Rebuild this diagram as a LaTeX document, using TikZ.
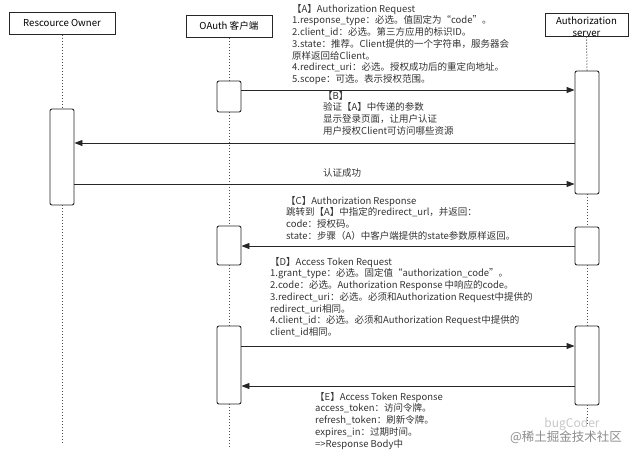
\documentclass[tikz,border=0pt]{standalone}
\usepackage{fontspec}
\setmainfont{Noto Sans CJK SC}
\usetikzlibrary{arrows.meta}
\tikzset{
  part/.style={draw=black!85, line width=1pt, inner sep=0pt, font=\fontsize{9.6}{11}\selectfont},
  act/.style={draw=black!85, line width=0.9pt, rounded corners=2pt, fill=white, inner sep=0pt, minimum width=24pt},
  life/.style={black!70, line width=1pt, dotted},
  msg/.style={black!85, line width=0.9pt, -{Triangle[length=8pt,width=6pt]}},
  note/.style={anchor=north west, align=left, inner sep=0pt, text=black!80, font=\fontsize{9.5}{11.7}\selectfont},
}
\begin{document}
\begin{tikzpicture}[x=1pt, y=-1pt]
  \useasboundingbox (0,0) rectangle (640,456);

  % Teilnehmer
  \node[part, minimum width=106pt, minimum height=22pt] (ro) at (62,23) {Rescource Owner};
  \node[part, minimum width=86pt, minimum height=22pt] (cl) at (229,26) {OAuth 客户端};
  \node[part, minimum width=83pt, minimum height=23pt] (as) at (586.5,24.5) {};
  \node[inner sep=0pt, align=center, font=\fontsize{9.6}{12}\selectfont] (astext) at (586.5,27) {Authorization\\server};

  % Aktivierungen
  \node[act, minimum height=96pt]  (ra)  at (62,157) {};
  \node[act, minimum height=31pt]  (c1)  at (229,96.5) {};
  \node[act, minimum height=39pt]  (c2)  at (229,245.5) {};
  \node[act, minimum height=78pt]  (c3)  at (229,365) {};
  \node[act, minimum height=123pt] (s1)  at (587,132.5) {};
  \node[act, minimum height=38pt]  (s2)  at (587,246) {};
  \node[act, minimum height=79pt]  (s3)  at (587,365.5) {};
  \coordinate (roend) at (62,445);
  \coordinate (clend) at (229,447);
  \coordinate (asend) at (587,425);

  % Lebenslinien
  \draw[life] (ro.south) -- (ra.north);
  \draw[life] (ra.south) -- (roend);
  \draw[life] (cl.south) -- (c1.north);
  \draw[life] (c1.south) -- (c2.north);
  \draw[life] (c2.south) -- (c3.north);
  \draw[life] (c3.south) -- (clend);
  \draw[life] (as.south) -- (s1.north);
  \draw[life] (s1.south) -- (s2.north);
  \draw[life] (s2.south) -- (s3.north);
  \draw[life] (s3.south) -- (asend);

  % Nachrichten
  \draw[msg] (c1.east |- 0,90)  -- (s1.west |- 0,90);
  \draw[msg] (s1.west |- 0,143) -- (ra.east |- 0,143);
  \draw[msg] (ra.east |- 0,184) -- (s1.west |- 0,184);
  \draw[msg] (s2.west |- 0,246) -- (c2.east |- 0,246);
  \draw[msg] (c3.east |- 0,346) -- (s3.west |- 0,346);
  \draw[msg] (s3.west |- 0,386) -- (c3.east |- 0,386);

  % Texte
  \node[note] (ta) at (292,4) {【A】Authorization Request\\
    1.response\_type：必选。值固定为“code”。\\
    2.client\_id：必选。第三方应用的标识ID。\\
    3.state：推荐。Client提供的一个字符串，服务器会\\
    原样返回给Client。\\
    4.redirect\_uri：必选。授权成功后的重定向地址。\\
    5.scope：可选。表示授权范围。};
  \node[note] (tb) at (323,91) {【B】\\
    验证【A】中传递的参数\\
    显示登录页面，让用户认证\\
    用户授权Client可访问哪些资源};
  \node[note] (tok) at (323,168) {认证成功};
  \node[note] (tc) at (286,196) {【C】Authorization Response\\
    跳转到【A】中指定的redirect\_url，并返回：\\
    code：授权码。\\
    state：步骤（A）中客户端提供的state参数原样返回。};
  \node[note] (td) at (270,257) {【D】Access Token Request\\
    1.grant\_type：必选。固定值“authorization\_code”。\\
    2.code：必选。Authorization Response 中响应的code。\\
    3.redirect\_uri：必选。必须和Authorization Request中提供的\\
    redirect\_uri相同。\\
    4.client\_id：必选。必须和Authorization Request中提供的\\
    client\_id相同。};
  \node[note] (te) at (315,392) {【E】Access Token Response\\
    access\_token：访问令牌。\\
    refresh\_token：刷新令牌。\\
    expires\_in：过期时间。\\
    =>Response Body中};

  % Wasserzeichen
  \node[text=black!22, font=\fontsize{12}{12}\selectfont] (wm1) at (572,424) {bugCoder};
  \node[text=black!45, font=\fontsize{12.5}{13}\selectfont] (wm2) at (566,437) {@稀土掘金技术社区};
\end{tikzpicture}
\end{document}
